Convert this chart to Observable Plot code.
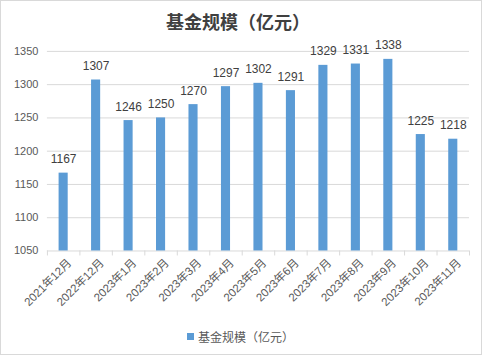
<!DOCTYPE html>
<html><head><meta charset="utf-8">
<script src="https://cdn.jsdelivr.net/npm/d3@7"></script>
<script src="https://cdn.jsdelivr.net/npm/@observablehq/plot@0.6"></script>
<style>
body{margin:0;background:#fff;}
#wrap{position:relative;width:482px;height:355px;box-sizing:border-box;border:1px solid #d9d9d9;overflow:hidden;font-family:"Liberation Sans","Noto Sans CJK SC",sans-serif;background:#fff;}
#title{position:absolute;left:-4px;top:8px;width:482px;text-align:center;font-weight:bold;font-size:18px;line-height:24px;font-family:"Noto Sans CJK SC",sans-serif;color:#404040;}
#chart{position:absolute;left:-1px;top:-1px;}
#legend{position:absolute;left:186px;top:326px;height:18px;display:flex;align-items:center;font-size:12px;color:#595959;font-family:"Noto Sans CJK SC",sans-serif;}
#legend .sw{display:inline-block;width:7px;height:7px;background:#5B9BD5;margin-right:4px;}
</style></head><body>
<div id="wrap"><div id="chart"></div><div id="title"></div><div id="legend"><span class="sw"></span><span id="legtext"></span></div></div>
<script>
const titleText = "基金规模（亿元）";
const seriesName = "基金规模（亿元）";
const months = ["2021年12月","2022年12月","2023年1月","2023年2月","2023年3月","2023年4月","2023年5月","2023年6月","2023年7月","2023年8月","2023年9月","2023年10月","2023年11月"];
const values = [1167,1307,1246,1250,1270,1297,1302,1291,1329,1331,1338,1225,1218];
const yTicks = [1050,1100,1150,1200,1250,1300,1350];

document.getElementById("title").textContent = titleText;
document.getElementById("legtext").textContent = seriesName;

const data = months.map((m,i)=>({month:m, value:values[i]}));
const W=482,H=355,ml=47,mr=12,mt=51,mb=104;
const step=(W-ml-mr)/months.length;
const font = "'Liberation Sans','Noto Sans CJK SC',sans-serif";
const chart = Plot.plot({
  width:W,height:H,marginLeft:ml,marginRight:mr,marginTop:mt,marginBottom:mb,
  style:{fontFamily:font,fontSize:"11px",color:"#595959",background:"transparent"},
  x:{type:"band",domain:months,paddingInner:0.72,paddingOuter:0.36,round:false,label:null},
  y:{domain:[yTicks[0],yTicks[yTicks.length-1]],label:null},
  marks:[
    Plot.gridY(yTicks.slice(1),{stroke:"#d9d9d9",strokeOpacity:1}),
    Plot.ruleY([yTicks[0]],{stroke:"#d9d9d9"}),
    Plot.barY(data,{x:"month",y1:yTicks[0],y2:"value",fill:"#5B9BD5"}),
    Plot.axisY(yTicks,{tickSize:0,tickPadding:9,tickFormat:d=>String(d),fontSize:11,fill:"#595959",label:null}),
    Plot.axisX(months,{tickSize:5,tickFormat:()=>"",dx:-step/2,stroke:"#d9d9d9",strokeOpacity:1,label:null}),
    Plot.axisX([months[months.length-1]],{tickSize:5,tickFormat:()=>"",dx:step/2,stroke:"#d9d9d9",strokeOpacity:1,label:null}),
    Plot.axisX(months,{tickSize:0,tickPadding:10,tickRotate:-45,textAnchor:"end",dx:6,fontSize:11.5,fill:"#595959",label:null}),
    Plot.text(data,{x:"month",y:"value",text:d=>String(d.value),dy:-10,lineAnchor:"bottom",fontSize:12,fill:"#404040"})
  ]
});
document.getElementById("chart").appendChild(chart);
</script>
</body></html>
